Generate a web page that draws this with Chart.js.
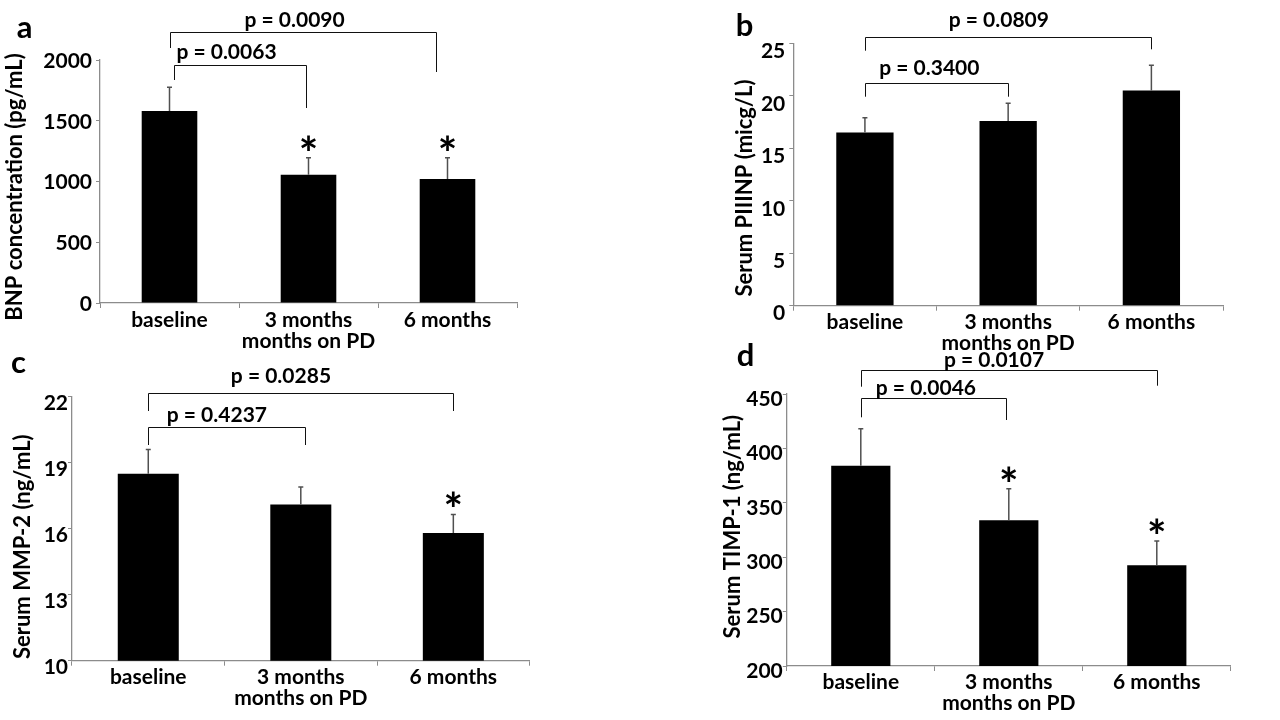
<!DOCTYPE html>
<html>
<head>
<meta charset="utf-8">
<script src="https://cdn.jsdelivr.net/npm/chart.js@4.4.1/dist/chart.umd.min.js"></script>
<style>
  html, body { margin: 0; padding: 0; background: #fff; }
  #wrap { position: relative; width: 1280px; height: 720px; overflow: hidden; }
  canvas { position: absolute; }
</style>
</head>
<body>
<div id="wrap">
  <canvas id="panelA"></canvas>
  <canvas id="panelB"></canvas>
  <canvas id="panelC"></canvas>
  <canvas id="panelD"></canvas>
</div>
<script>
// categories shared by all four panels
const categories = ['baseline', '3 months', '6 months'];
const axisNote = 'months on PD';

// a - BNP
const bnpMean = [1580, 1055, 1020];
const bnpErr = [195, 140, 175];
const bnpStar = [false, true, true];
const bnpTicks = [0, 500, 1000, 1500, 2000];
const bnpP = ['p = 0.0090', 'p = 0.0063'];

// b - PIIINP
const piiinpMean = [16.5, 17.6, 20.5];
const piiinpErr = [1.4, 1.7, 2.4];
const piiinpStar = [false, false, false];
const piiinpTicks = [0, 5, 10, 15, 20, 25];
const piiinpP = ['p = 0.0809', 'p = 0.3400'];

// c - MMP-2
const mmp2Mean = [18.5, 17.1, 15.8];
const mmp2Err = [1.1, 0.8, 0.85];
const mmp2Star = [false, false, true];
const mmp2Ticks = [10, 13, 16, 19, 22];
const mmp2P = ['p = 0.0285', 'p = 0.4237'];

// d - TIMP-1
const timp1Mean = [384, 334, 292.5];
const timp1Err = [34, 29, 22.5];
const timp1Star = [false, true, true];
const timp1Ticks = [200, 250, 300, 350, 400, 450];
const timp1P = ['p = 0.0107', 'p = 0.0046'];

const FONT = 'Lato';
const FS = 21;
const xLabels = categories.map((c, i) => i === 1 ? [c, axisNote] : c);

function makePanel(id, d, lay) {
  const el = document.getElementById(id);
  el.width = lay.w; el.height = lay.h;
  el.style.left = lay.left + 'px'; el.style.top = lay.top + 'px';
  el.style.width = lay.w + 'px'; el.style.height = lay.h + 'px';

  const extras = {
    id: 'extras_' + id,
    afterDatasetsDraw(chart) {
      const c = chart.ctx, ys = chart.scales.y;
      const meta = chart.getDatasetMeta(0);
      c.save();
      c.strokeStyle = '#505050';
      c.lineWidth = 1.5;
      meta.data.forEach((bar, i) => {
        const top = ys.getPixelForValue(d.mean[i] + d.err[i]);
        c.beginPath();
        c.moveTo(bar.x, bar.y);
        c.lineTo(bar.x, top);
        c.moveTo(bar.x - 2.5, top);
        c.lineTo(bar.x + 2.5, top);
        c.stroke();
        if (d.star[i]) {
          c.fillStyle = '#000';
          c.font = 'bold 46px ' + FONT;
          c.textAlign = 'center';
          c.textBaseline = 'alphabetic';
          const m = c.measureText('*');
          const mid = (m.actualBoundingBoxAscent - m.actualBoundingBoxDescent) / 2;
          c.fillText('*', bar.x, top - 15 + mid);
        }
      });
      c.restore();
    },
    afterDraw(chart) {
      const c = chart.ctx, xs = chart.scales.x, area = chart.chartArea;
      c.save();
      c.strokeStyle = '#111';
      c.lineWidth = 1;
      c.fillStyle = '#000';
      c.textAlign = 'center';
      c.textBaseline = 'middle';
      c.font = 'bold ' + FS + 'px ' + FONT;
      lay.brackets.forEach((b, i) => {
        const x1 = Math.round(xs.getPixelForValue(b.x1)) + 0.5;
        const x2 = Math.round(xs.getPixelForValue(b.x2)) + 0.5;
        const yb = Math.round(area.top + b.dy) + 0.5;
        c.beginPath();
        c.moveTo(x1, area.top + b.dl);
        c.lineTo(x1, yb);
        c.lineTo(x2, yb);
        c.lineTo(x2, area.top + b.dr);
        c.stroke();
        c.fillText(d.p[i], xs.getPixelForValue(b.tx), area.top + b.ty);
      });
      // y-axis title
      c.save();
      c.translate(lay.tx, lay.ty);
      c.rotate(-Math.PI / 2);
      c.font = 'bold 22px ' + FONT;
      c.fillText(d.title, 0, 0);
      c.restore();
      // panel letter
      c.font = 'bold 31px ' + FONT;
      c.fillText(lay.letter, lay.lx, lay.ly);
      c.restore();
    }
  };

  const tickFont = { family: FONT, weight: 'bold', size: FS };
  return new Chart(el, {
    type: 'bar',
    data: {
      labels: xLabels,
      datasets: [{
        data: d.mean,
        backgroundColor: '#000',
        borderWidth: 0,
        barPercentage: 0.4,
        categoryPercentage: 1
      }]
    },
    options: {
      responsive: false,
      animation: false,
      devicePixelRatio: 1,
      layout: { padding: { left: 0, top: lay.padTop, right: lay.padRight, bottom: lay.padBottom } },
      plugins: { legend: { display: false }, tooltip: { enabled: false } },
      scales: {
        x: {
          grid: { display: true, drawOnChartArea: false, color: '#8c8c8c', tickLength: 5, offset: true },
          border: { color: '#8c8c8c', width: 1.3 },
          ticks: {
            color: '#000', font: { family: FONT, weight: 'bold', size: FS, lineHeight: 1.0 },
            padding: lay.xPad, maxRotation: 0, minRotation: 0, autoSkip: false
          },
          afterFit: s => { s.height = 50; }
        },
        y: {
          min: d.ticks[0],
          max: d.ticks[d.ticks.length - 1],
          afterBuildTicks: s => { s.ticks = d.ticks.map(v => ({ value: v })); },
          grid: { display: true, drawOnChartArea: false, color: '#8c8c8c', tickLength: 4 },
          border: { color: '#8c8c8c', width: 1.3 },
          ticks: {
            color: '#000', font: tickFont, padding: lay.yPad, labelOffset: lay.labelOffset,
            callback: v => String(v)
          },
          title: { display: false },
          afterFit: s => { s.width = lay.axisW; }
        }
      }
    },
    plugins: [extras]
  });
}

makePanel('panelA',
  { mean: bnpMean, err: bnpErr, star: bnpStar, ticks: bnpTicks, p: bnpP, title: 'BNP concentration (pg/mL)' },
  { left: 0, top: 0, w: 640, h: 360, axisW: 100, padTop: 60, padRight: 123, padBottom: 7,
    tx: 15, ty: 187, labelOffset: 1, yPad: 4, xPad: 2, letter: 'a', lx: 24.5, ly: 27.5,
    brackets: [
      { x1: 0, x2: 1.92, dy: -28, dl: -12, dr: 12, tx: 0.9, ty: -40 },
      { x1: 0.03, x2: 0.98, dy: 5, dl: 20, dr: 48, tx: 0.41, ty: -8 }
    ] });

makePanel('panelB',
  { mean: piiinpMean, err: piiinpErr, star: piiinpStar, ticks: piiinpTicks, p: piiinpP, title: 'Serum PIIINP (micg/L)' },
  { left: 720, top: 0, w: 560, h: 360, axisW: 73.3, padTop: 43.3, padRight: 57, padBottom: 4.3,
    tx: 25, ty: 188, labelOffset: 8, yPad: 4, xPad: 1, letter: 'b', lx: 24.5, ly: 26,
    brackets: [
      { x1: 0, x2: 2, dy: -6, dl: 7.4, dr: 6, tx: 0.935, ty: -22.6 },
      { x1: 0, x2: 1, dy: 39.4, dl: 53.4, dr: 53.4, tx: 0.45, ty: 25 }
    ] });

makePanel('panelC',
  { mean: mmp2Mean, err: mmp2Err, star: mmp2Star, ticks: mmp2Ticks, p: mmp2P, title: 'Serum MMP-2 (ng/mL)' },
  { left: 0, top: 340, w: 640, h: 380, axisW: 72, padTop: 56.7, padRight: 110.4, padBottom: 9.3,
    tx: 23, ty: 206.7, labelOffset: 6.5, yPad: 0, xPad: 1, letter: 'c', lx: 18.5, ly: 22.5,
    brackets: [
      { x1: 0, x2: 2, dy: -4, dl: 14.3, dr: 14.3, tx: 0.87, ty: -20 },
      { x1: 0, x2: 1.03, dy: 30, dl: 48.3, dr: 48.3, tx: 0.45, ty: 18.3 }
    ] });

makePanel('panelD',
  { mean: timp1Mean, err: timp1Err, star: timp1Star, ticks: timp1Ticks, p: timp1P, title: 'Serum TIMP-1 (ng/mL)' },
  { left: 720, top: 340, w: 560, h: 380, axisW: 66.8, padTop: 54, padRight: 49.2, padBottom: 4,
    tx: 13, ty: 186.7, labelOffset: 5, yPad: 0, xPad: 1, letter: 'd', lx: 25.5, ly: 16,
    brackets: [
      { x1: 0, x2: 2, dy: -24, dl: -7.3, dr: -8.3, tx: 0.9, ty: -33.3 },
      { x1: 0, x2: 0.98, dy: 4.3, dl: 23.3, dr: 26, tx: 0.44, ty: -5.7 }
    ] });
</script>
</body>
</html>
